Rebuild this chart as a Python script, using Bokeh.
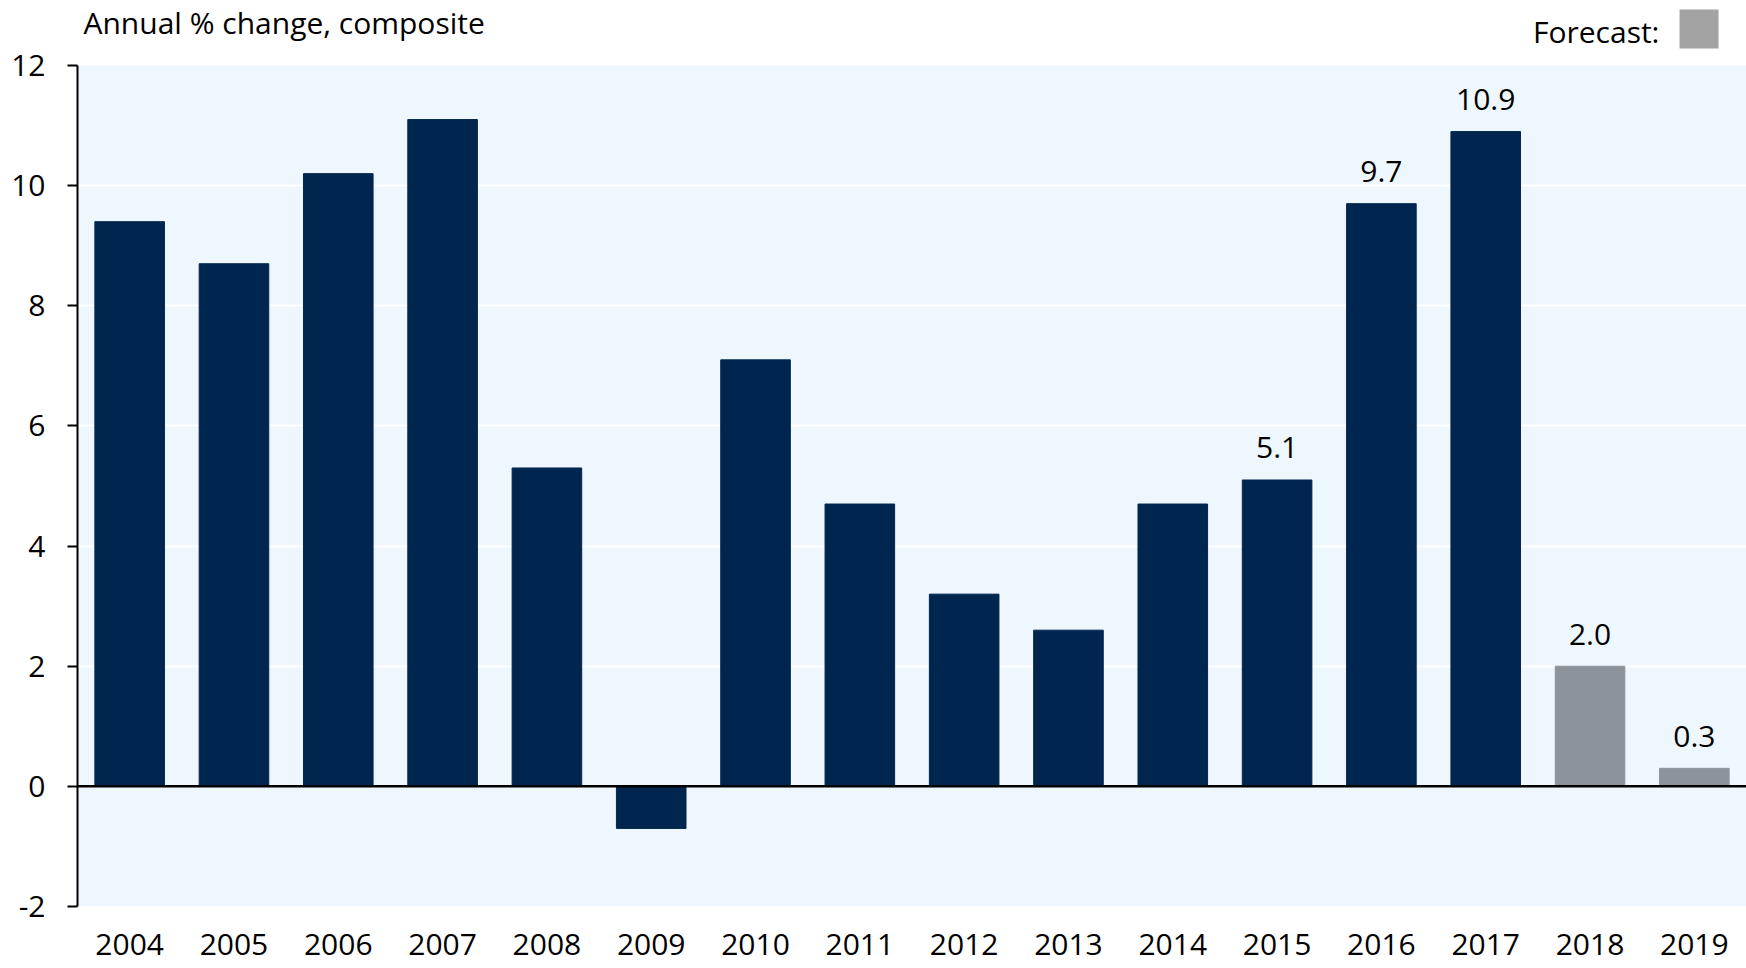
from bokeh.plotting import figure
from bokeh.models import (ColumnDataSource, FixedTicker, Span, Label,
                          BoxAnnotation, Range1d, FactorRange)
from bokeh.embed import file_html
from bokeh.resources import INLINE
from bokeh.core.properties import value

# ---- data ----
years = ["2004", "2005", "2006", "2007", "2008", "2009", "2010", "2011",
         "2012", "2013", "2014", "2015", "2016", "2017", "2018", "2019"]
growth = [9.4, 8.7, 10.2, 11.1, 5.3, -0.7, 7.1, 4.7,
          3.2, 2.6, 4.7, 5.1, 9.7, 10.9, 2.0, 0.3]
is_forecast = [False] * 14 + [True] * 2
labelled_years = ["2015", "2016", "2017", "2018", "2019"]
labelled_values = [5.1, 9.7, 10.9, 2.0, 0.3]
labelled_text = ["5.1", "9.7", "10.9", "2.0", "0.3"]
y_ticks = [-2, 0, 2, 4, 6, 8, 10, 12]
grid_ticks = [2, 4, 6, 8, 10]
title_text = "Annual % change, composite"
legend_text = "Forecast:"

# ---- style ----
FONT = "Open Sans"
DARK = "#00264F"
GREY = "#8C939B"
LEGEND_GREY = "#A3A3A3"
BG = "#EFF7FE"

colors = [GREY if f else DARK for f in is_forecast]
src = ColumnDataSource(dict(year=years, growth=growth, color=colors))
lab_src = ColumnDataSource(dict(year=labelled_years, v=labelled_values, t=labelled_text))

Y_MIN, Y_MAX_AXIS = -2, 12
Y_TOP = 13.082   # frame extends above the axis for title / legend space

p = figure(width=1746, height=968, x_range=FactorRange(*years, range_padding=0),
           y_range=Range1d(Y_MIN, Y_TOP), output_backend="svg", toolbar_location=None,
           min_border_left=77, min_border_right=0, min_border_top=0,
           min_border_bottom=62)
p.background_fill_color = "white"
p.border_fill_color = "white"
p.outline_line_color = None

# plot-area background (only up to the top of the axis)
p.add_layout(BoxAnnotation(bottom=Y_MIN, top=Y_MAX_AXIS, fill_color=BG, fill_alpha=1.0,
                           line_color=None, level="image"))

p.vbar(x="year", top="growth", width=0.667, color="color", source=src)

p.text(x="year", y="v", text="t", source=lab_src, text_font=value(FONT),
       text_font_size="30px", text_align="center", text_baseline="alphabetic",
       text_color="black", y_offset=-32)

p.add_layout(Span(location=0, dimension="width", line_color="black", line_width=2.5))

# axes
yax = p.yaxis[0]
yax.ticker = FixedTicker(ticks=y_ticks)
yax.bounds = (Y_MIN, Y_MAX_AXIS)
yax.major_label_overrides = {t: str(t) for t in y_ticks}
yax.minor_tick_line_color = None
yax.major_tick_in = 0
yax.major_tick_out = 10
yax.major_tick_line_width = 2
yax.major_tick_line_color = "black"
yax.axis_line_width = 2
yax.axis_line_color = "black"
yax.major_label_text_font = FONT
yax.major_label_text_font_size = "30px"
yax.major_label_text_color = "black"
yax.major_label_standoff = 22

xax = p.xaxis[0]
xax.axis_line_color = None
xax.major_tick_line_color = None
xax.minor_tick_line_color = None
xax.major_label_text_font = FONT
xax.major_label_text_font_size = "30px"
xax.major_label_text_color = "black"
xax.major_label_standoff = 21

p.xgrid.grid_line_color = None
p.ygrid.ticker = FixedTicker(ticks=grid_ticks)
p.ygrid.grid_line_color = "white"
p.ygrid.grid_line_width = 2

# title and legend (inside the extended frame, above the axis top)
p.add_layout(Label(x=0.0575, y=12.72, text=title_text,
                   text_font=FONT, text_font_size="30px", text_color="black",
                   text_baseline="alphabetic", text_align="left"))
p.add_layout(Label(x=15.166, y=12.57, text=legend_text, text_font=FONT,
                   text_font_size="30px", text_color="black",
                   text_baseline="alphabetic", text_align="right"))
p.add_layout(BoxAnnotation(left=15.358, right=15.732, bottom=12.283, top=12.932,
                           fill_color=LEGEND_GREY, fill_alpha=1.0, line_color=None))

open("out.html", "w").write(file_html(p, INLINE))
